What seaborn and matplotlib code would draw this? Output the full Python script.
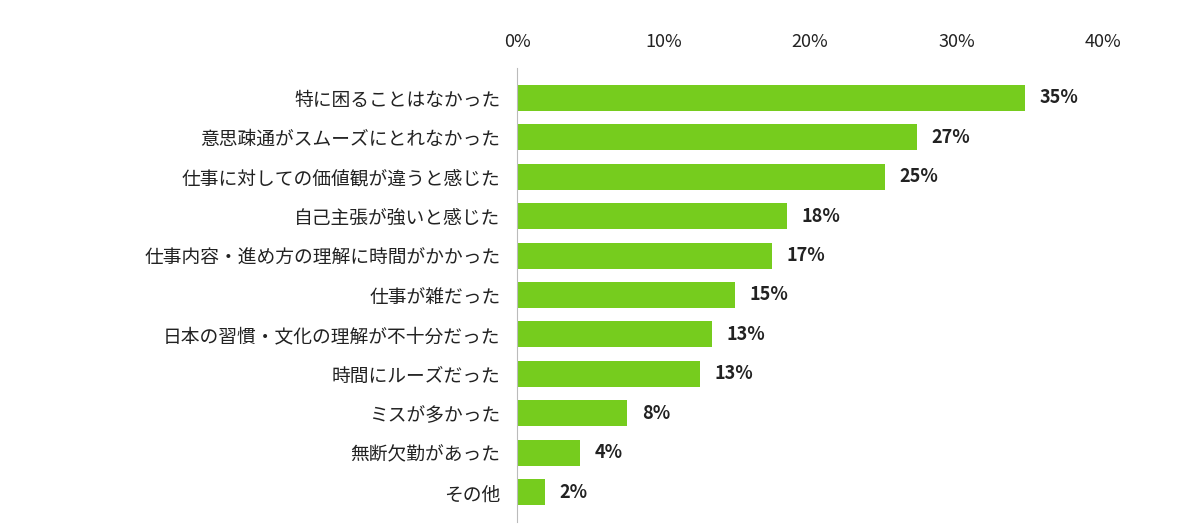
import matplotlib
matplotlib.use("Agg")
import matplotlib.pyplot as plt
import seaborn as sns
import pandas as pd

categories = ["特に困ることはなかった", "意思疎通がスムーズにとれなかった", "仕事に対しての価値観が違うと感じた",
              "自己主張が強いと感じた", "仕事内容・進め方の理解に時間がかかった", "仕事が雑だった",
              "日本の習慣・文化の理解が不十分だった", "時間にルーズだった", "ミスが多かった",
              "無断欠勤があった", "その他"]
values = [34.7, 27.3, 25.1, 18.4, 17.4, 14.9, 13.3, 12.5, 7.5, 4.3, 1.9]
value_labels = ["35%", "27%", "25%", "18%", "17%", "15%", "13%", "13%", "8%", "4%", "2%"]
ticks = [0, 10, 20, 30, 40]
tick_labels = ["0%", "10%", "20%", "30%", "40%"]

plt.rcParams["font.family"] = "Noto Sans CJK JP"
df = pd.DataFrame({"cat": categories, "val": values})

fig = plt.figure(figsize=(12, 5.32), dpi=100)
ax = fig.add_axes([0.431, 0.019, 0.488, 0.853])
sns.barplot(data=df, x="val", y="cat", color="#76CC1E", width=0.66, saturation=1, ax=ax)
for i, (v, l) in enumerate(zip(values, value_labels)):
    ax.text(v + 1.0, i, l, va="center", ha="left", fontsize=13, fontweight="bold", color="#222222")
ax.set_xlim(0, 40)
ax.set_ylim(10.75, -0.75)
ax.set_xticks(ticks)
ax.set_xticklabels(tick_labels, fontsize=13)
ax.xaxis.tick_top()
ax.tick_params(axis="x", length=0, pad=12, colors="#222222")
ax.tick_params(axis="y", length=0, pad=12, labelsize=13.5, colors="#222222")
ax.set_xlabel("")
ax.set_ylabel("")
for s in ["top", "right", "bottom"]:
    ax.spines[s].set_visible(False)
ax.spines["left"].set_color("#bbbbbb")
fig.savefig("out.png", dpi=100, facecolor="white")
